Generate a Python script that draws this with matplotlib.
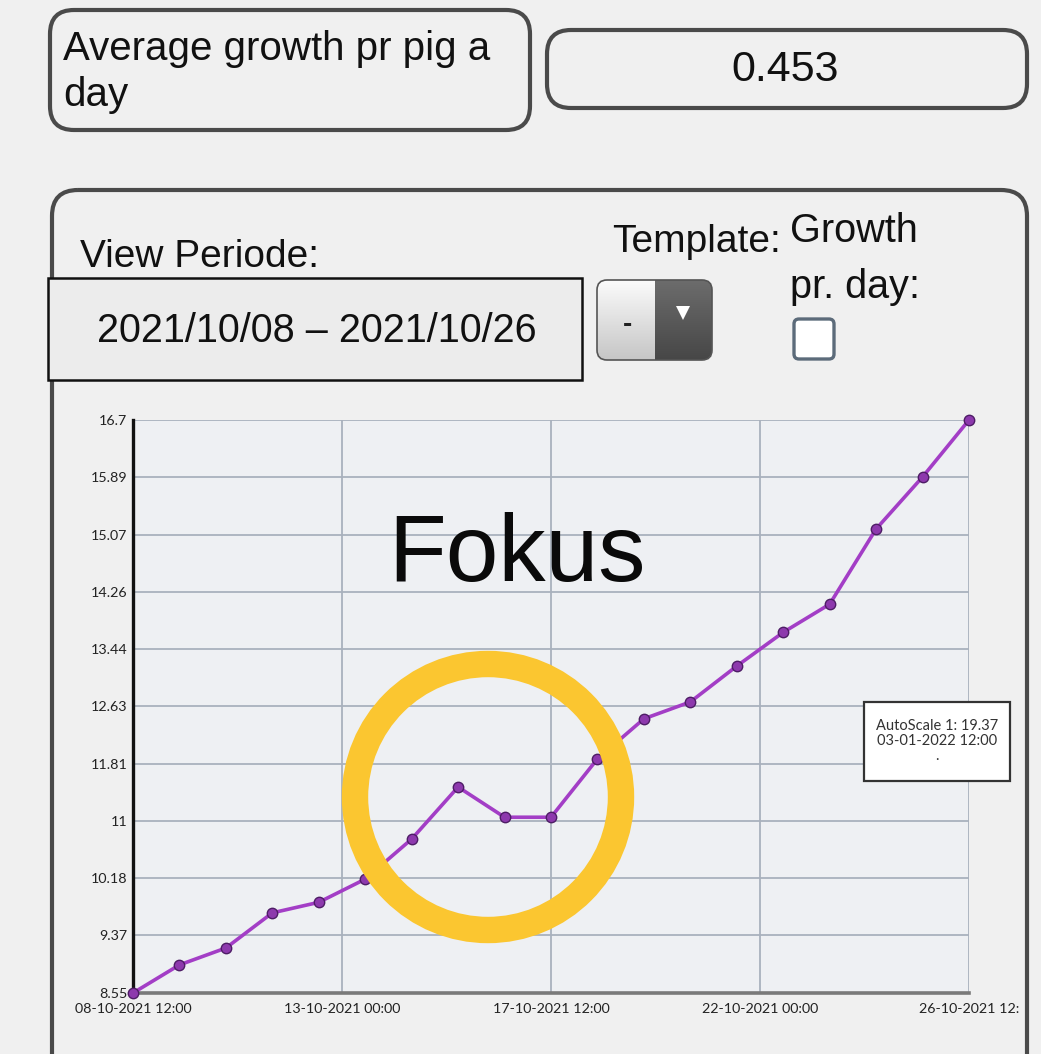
import numpy as np
import pandas as pd
import matplotlib
matplotlib.use("Agg")
import matplotlib.pyplot as plt
from matplotlib.patches import FancyBboxPatch, Rectangle, Circle, Polygon

# data
dates = ["2021-10-08 12:00", "2021-10-09 12:00", "2021-10-10 12:00", "2021-10-11 12:00",
         "2021-10-12 12:00", "2021-10-13 12:00", "2021-10-14 12:00", "2021-10-15 12:00",
         "2021-10-16 12:00", "2021-10-17 12:00", "2021-10-18 12:00", "2021-10-19 12:00",
         "2021-10-20 12:00", "2021-10-21 12:00", "2021-10-22 12:00", "2021-10-23 12:00",
         "2021-10-24 12:00", "2021-10-25 12:00", "2021-10-26 12:00"]
weights = [8.55, 8.95, 9.19, 9.69, 9.84, 10.17, 10.74, 11.48, 11.05, 11.05,
           11.88, 12.45, 12.69, 13.20, 13.68, 14.08, 15.15, 15.89, 16.70]

y_ticks = [8.55, 9.37, 10.18, 11, 11.81, 12.63, 13.44, 14.26, 15.07, 15.89, 16.7]
y_tick_labels = ["8.55", "9.37", "10.18", "11", "11.81", "12.63", "13.44", "14.26", "15.07", "15.89", "16.7"]
x_ticks = ["2021-10-08 12:00", "2021-10-13 00:00", "2021-10-17 12:00", "2021-10-22 00:00", "2021-10-26 12:00"]
x_tick_labels = ["08-10-2021 12:00", "13-10-2021 00:00", "17-10-2021 12:00", "22-10-2021 00:00", "26-10-2021 12:"]

avg_label = "Average growth pr pig a\nday"
avg_value = "0.453"
period = "2021/10/08 \u2013 2021/10/26"
autoscale_text = "AutoScale 1: 19.37\n03-01-2022 12:00\n."

W, H = 1041, 1054
BG = "#f0f0f0"
BORDER = "#4a4a4a"
UI_FONT = "Liberation Sans"
TICK_FONT = "Lato"


def px_axes(l, t, r, b):
    return [l / W, 1 - b / H, (r - l) / W, (b - t) / H]


fig = plt.figure(figsize=(W / 100, H / 100), dpi=100, facecolor=BG)

# background / UI layer in pixel coordinates
bg = fig.add_axes([0, 0, 1, 1], zorder=0)
bg.set_facecolor(BG)
bg.axis("off")

def rbox(x0, y0, x1, y1, r, lw=3, ec=BORDER, fc="none", ax=bg):
    p = FancyBboxPatch((x0, y0), x1 - x0, y1 - y0,
                       boxstyle=f"round,pad=0,rounding_size={r}",
                       lw=lw, ec=ec, fc=fc)
    ax.add_patch(p)
    return p

rbox(50, 10, 530, 130, 24)
bg.text(63, 72, avg_label, fontsize=29, family=UI_FONT, ha="left", va="center",
        linespacing=1.3, color="#111")
rbox(547, 30, 1027, 108, 24)
bg.text(785, 70, avg_value, fontsize=31, family=UI_FONT, ha="center", va="center", color="#111")

# main panel
rbox(52, 190, 1027, 1090, 26)
bg.text(80, 257, "View Periode:", fontsize=28, family=UI_FONT, ha="left", va="center", color="#111")
bg.add_patch(Rectangle((48, 278), 534, 102, fc="#ececec", ec="#111", lw=1.8))
bg.text(317, 331, period, fontsize=28.5, family=UI_FONT, ha="center", va="center", color="#111")

bg.text(612, 242, "Template:", fontsize=28, family=UI_FONT, ha="left", va="center", color="#111")
bg.text(790, 231, "Growth", fontsize=28.5, family=UI_FONT, ha="left", va="center", color="#111")
bg.text(790, 287, "pr. day:", fontsize=28.5, family=UI_FONT, ha="left", va="center", color="#111")

# dropdown button
dd = rbox(597, 280, 712, 360, 10, lw=1.2, ec="#555", fc="none")
grad = np.linspace(0, 1, 64).reshape(-1, 1)
left_img = bg.imshow(grad, cmap=matplotlib.colors.LinearSegmentedColormap.from_list("l", ["#fbfbfb", "#c6c6c6"]),
                     extent=(597, 655, 360, 280), aspect="auto", zorder=1)
left_img.set_clip_path(dd)
right_img = bg.imshow(grad, cmap=matplotlib.colors.LinearSegmentedColormap.from_list("r", ["#6c6c6c", "#474747"]),
                      extent=(655, 712, 360, 280), aspect="auto", zorder=1)
right_img.set_clip_path(dd)
dd.set_zorder(2)
bg.text(627, 325, "-", fontsize=20, family=UI_FONT, weight="bold", ha="center", va="center",
        color="#222", zorder=3)
bg.add_patch(Polygon([[676, 306], [690, 306], [683, 320]], closed=True, fc="white", ec="none", zorder=3))

# checkbox
rbox(794, 319, 834, 359, 5, lw=2.4, ec="#5c6b7a", fc="white")

bg.set_xlim(0, W)
bg.set_ylim(H, 0)

# chart
ax = fig.add_axes(px_axes(133, 420, 969, 993), zorder=1)
ax.set_facecolor("#eef0f3")
x = pd.to_datetime(dates)
ax.plot(x, weights, color="#a33ec6", lw=2.6, marker="o", ms=7.5,
        mfc="#8d39ad", mec="#4e1d66", mew=1, clip_on=False, zorder=3)
ax.set_xlim(x[0], x[-1])
ax.set_ylim(y_ticks[0], y_ticks[-1])
ax.set_yticks(y_ticks, y_tick_labels)
ax.set_xticks(pd.to_datetime(x_ticks), x_tick_labels)
ax.grid(True, color="#a9b1bd", lw=1.3)
ax.set_axisbelow(True)
ax.tick_params(length=0, labelsize=10.3, colors="#222")
ax.tick_params(axis="y", pad=4)
ax.tick_params(axis="x", pad=7)
for lab in ax.get_xticklabels() + ax.get_yticklabels():
    lab.set_family(TICK_FONT)
for s in ["top", "right"]:
    ax.spines[s].set_visible(False)
ax.spines["left"].set_color("#111")
ax.spines["left"].set_linewidth(2.4)
ax.spines["bottom"].set_color("#7a7a7a")
ax.spines["bottom"].set_linewidth(2.6)

# overlay layer
ov = fig.add_axes([0, 0, 1, 1], zorder=3)
ov.patch.set_alpha(0)
ov.axis("off")
ov.add_patch(Circle((488, 797), 133, fill=False, ec="#fbc630", lw=19))
ov.text(517, 557, "Fokus", fontsize=68, family=UI_FONT, ha="center", va="center", color="#0a0a0a")
ov.add_patch(Rectangle((864, 702), 146, 79, fc="white", ec="#333", lw=1.6))
ov.text(937, 741, autoscale_text, fontsize=10.5, family=TICK_FONT, ha="center", va="center",
        color="#333", linespacing=1.05)
ov.set_xlim(0, W)
ov.set_ylim(H, 0)

fig.savefig("out.png", dpi=100, facecolor=BG)
